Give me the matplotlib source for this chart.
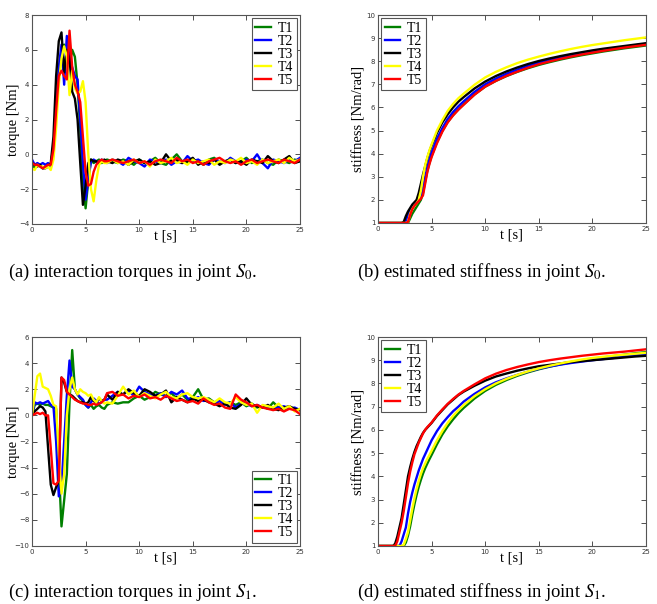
import matplotlib
matplotlib.use('Agg')
import matplotlib.pyplot as plt
import numpy as np

plt.rcParams['font.family'] = 'Liberation Serif'
plt.rcParams['mathtext.fontset'] = 'stix'

# ------------------------------- data -------------------------------------
names = ['T1', 'T2', 'T3', 'T4', 'T5']
colors = ['green', 'blue', 'black', 'yellow', 'red']

# torque time grid: 0.25 s up to 7 s, then 0.5 s
t_torque = np.concatenate([np.arange(0, 7, 0.25), np.arange(7, 25.01, 0.5)])

# ---- (a) torques in joint S0
tq_s0_t1 = [-0.6, -0.8, -0.6, -0.7, -0.8, -0.7, -0.6, -0.6, 0.5, 2.5,
            4.5, 5.8, 6.3, 6.0, 5.2, 6.0, 5.6, 4.0, 1.5, -1.5,
            -3.1, -1.5, -0.3, -0.5, -0.4, -0.3, -0.5, -0.4,
            -0.3, -0.4, -0.5, -0.3, -0.4, -0.6, -0.3, -0.5, -0.4, -0.2,
            -0.5, -0.6, -0.3, 0.0, -0.4, -0.5, -0.3, -0.4, -0.6, -0.3,
            -0.2, -0.5, -0.4, -0.3, -0.5, -0.4, -0.2, -0.5, -0.4, -0.3,
            -0.5, -0.6, -0.3, -0.4, -0.5, -0.3, -0.4]
tq_s0_t2 = [-0.3, -0.6, -0.5, -0.6, -0.5, -0.6, -0.5, -0.7, 0.0, 2.5,
            5.0, 6.3, 4.0, 6.8, 5.5, 5.0, 4.5, 4.3, 2.0, -0.5,
            -2.6, -1.5, -0.4, -0.3, -0.4, -0.5, -0.3, -0.4,
            -0.5, -0.3, -0.4, -0.6, -0.2, -0.4, -0.5, -0.7, -0.3, -0.4,
            -0.5, -0.3, -0.6, -0.4, -0.5, -0.1, -0.4, -0.3, -0.5, -0.6,
            -0.3, -0.4, -0.5, -0.2, -0.4, -0.5, -0.3, -0.4, 0.0, -0.5,
            -0.8, -0.3, -0.4, -0.5, -0.3, -0.4, -0.2]
tq_s0_t3 = [-0.5, -0.6, -0.7, -0.6, -0.8, -0.8, -0.7, -0.5, 1.0, 4.5,
            6.5, 7.0, 4.7, 6.0, 5.5, 3.6, 3.2, 2.0, -0.5, -2.9,
            -1.8, -0.5, -0.3, -0.4, -0.4, -0.5, -0.4, -0.3,
            -0.4, -0.5, -0.3, -0.4, -0.6, -0.4, -0.3, -0.5, -0.4, -0.6,
            -0.5, 0.0, -0.4, -0.3, -0.5, -0.4, -0.2, -0.6, -0.4, -0.5,
            -0.3, -0.6, -0.4, -0.3, -0.5, -0.4, -0.6, -0.3, -0.4, -0.5,
            -0.1, -0.4, -0.5, -0.3, -0.1, -0.5, -0.4]
tq_s0_t4 = [-0.8, -0.9, -0.6, -0.7, -0.7, -0.8, -0.7, -0.9, -0.3, 1.5,
            4.0, 5.5, 6.2, 5.6, 3.4, 4.8, 3.8, 3.5, 3.6, 4.2,
            3.0, 0.0, -2.0, -2.7, -1.5, -0.6, -0.4, -0.5,
            -0.5, -0.3, -0.5, -0.4, -0.6, -0.3, -0.5, -0.4, -0.7, -0.3,
            -0.5, -0.4, -0.2, -0.5, -0.4, -0.6, -0.3, -0.5, -0.4, -0.3,
            -0.6, -0.4, -0.5, -0.3, -0.4, -0.2, -0.5, -0.4, -0.6, -0.3,
            -0.5, -0.4, -0.3, -0.5, -0.2, -0.4, -0.3]
tq_s0_t5 = [-0.5, -0.6, -0.6, -0.7, -0.8, -0.7, -0.6, -0.6, 0.3, 2.5,
            4.5, 4.8, 4.5, 4.3, 7.1, 5.0, 4.0, 3.6, 3.0, 1.0,
            -1.0, -1.8, -1.7, -1.0, -0.6, -0.4, -0.3, -0.4,
            -0.4, -0.3, -0.4, -0.5, -0.4, -0.3, -0.5, -0.4, -0.6, -0.4,
            -0.3, -0.4, -0.5, -0.2, -0.4, -0.3, -0.5, -0.4, -0.6, -0.4,
            -0.3, -0.2, -0.4, -0.5, -0.4, -0.6, -0.4, -0.3, -0.5, -0.4,
            -0.3, -0.4, -0.5, -0.3, -0.4, -0.5, -0.3]

# ---- (c) torques in joint S1
tq_s1_t1 = [0.0, 0.8, 0.9, 0.8, 0.9, 0.8, 0.8, 0.7, 0.6, 0.5,
            -4.0, -8.5, -6.5, -4.5, 1.0, 5.0, 2.0, 1.6, 1.3, 1.1,
            0.8, 0.6, 0.8, 0.5, 0.7, 0.8, 0.6, 0.5,
            0.8, 1.0, 0.9, 1.0, 1.0, 1.3, 1.5, 1.2, 1.4, 1.8,
            1.6, 1.5, 1.7, 1.3, 1.6, 1.2, 1.4, 2.0, 1.2, 1.3,
            1.0, 1.1, 0.9, 1.0, 0.8, 1.0, 0.7, 0.9, 0.6, 0.7,
            0.5, 1.0, 0.6, 0.4, 0.6, 0.5, 0.4]
tq_s1_t2 = [0.0, 1.0, 0.9, 1.0, 0.9, 1.0, 1.1, 0.8, 0.7, -2.0,
            -6.2, -5.5, -2.0, 1.5, 4.2, 2.2, 2.0, 1.6, 1.4, 1.2,
            0.8, 0.6, 1.0, 1.3, 1.1, 0.9, 1.0, 1.2,
            1.2, 1.5, 1.8, 1.6, 1.9, 1.5, 2.2, 1.8, 1.6, 1.5,
            1.7, 1.4, 1.8, 1.6, 1.9, 1.3, 1.2, 1.4, 1.1, 1.2,
            0.9, 1.1, 0.8, 1.0, 0.6, 0.9, 0.9, 0.7, 0.8, 0.6,
            0.7, 0.5, 0.6, 0.7, 0.5, 0.6, 0.4]
tq_s1_t3 = [0.0, 0.3, 0.5, 0.7, 0.6, 0.3, -2.5, -5.3, -6.1, -5.5,
            -5.0, 2.9, 2.5, 1.8, 1.6, 1.5, 1.3, 1.1, 1.0, 1.0,
            0.9, 1.0, 1.4, 1.1, 1.0, 1.3, 1.1, 1.2,
            1.6, 1.2, 1.8, 1.6, 2.0, 1.7, 1.5, 2.0, 1.8, 1.5,
            1.6, 1.9, 1.0, 1.4, 1.2, 1.0, 1.3, 1.1, 1.2, 1.0,
            0.9, 0.7, 0.9, 0.6, 0.5, 0.8, 1.3, 0.8, 0.7, 0.6,
            0.8, 0.5, 0.4, 0.6, 0.7, 0.5, 0.4]
tq_s1_t4 = [0.0, 1.5, 3.0, 3.2, 2.2, 2.1, 2.0, 1.5, 0.8, 0.7,
            -3.0, -6.0, -4.5, 0.0, 2.0, 2.9, 2.0, 1.6, 2.0, 1.8,
            1.7, 1.5, 1.6, 1.2, 1.0, 1.4, 1.1, 0.9,
            1.0, 0.9, 1.5, 2.2, 1.6, 1.9, 1.4, 1.7, 1.5, 1.3,
            1.6, 1.8, 1.4, 1.3, 1.6, 1.7, 1.4, 1.3, 1.4, 1.2,
            1.0, 1.3, 1.0, 0.9, 1.4, 1.0, 0.8, 0.9, 0.2, 0.8,
            0.7, 0.6, 0.9, 0.5, 0.7, 0.3, 0.5]
tq_s1_t5 = [0.0, 0.1, 0.2, 0.1, 0.2, 0.0, 0.0, -2.5, -5.2, -5.3,
            -5.0, 2.9, 2.7, 1.8, 1.6, 1.4, 1.2, 1.1, 1.0, 0.9,
            0.9, 0.8, 0.8, 0.9, 0.8, 0.9, 1.0, 1.2,
            1.7, 1.8, 1.5, 1.6, 1.3, 1.5, 1.4, 1.6, 1.3, 1.4,
            1.2, 1.5, 1.3, 1.1, 1.2, 1.0, 1.1, 0.9, 1.3, 1.0,
            0.8, 0.9, 0.6, 0.5, 1.6, 1.2, 1.0, 0.7, 0.8, 0.6,
            0.5, 0.4, 0.5, 0.3, 0.5, 0.4, 0.1]

# stiffness time grid
t_stiff = [0, 1.4, 1.6, 1.8, 2.0, 2.2, 2.4, 2.6, 2.8, 3.0,
           3.2, 3.4, 3.6, 3.8, 4.0, 4.2, 4.4, 4.6, 4.8, 5.0,
           5.5, 6.0, 6.5, 7.0, 7.5, 8, 9, 10, 11, 12,
           13, 14, 15, 16, 17, 18, 19, 20, 21, 22,
           23, 24, 25]

# ---- (b) stiffness in joint S0
k_s0_t1 = [1, 1, 1, 1, 1, 1, 1, 1, 1, 1.2,
           1.4, 1.55, 1.7, 1.85, 2.0, 2.3, 2.8, 3.25, 3.6, 3.9,
           4.5, 4.98, 5.37, 5.67, 5.92, 6.14, 6.56, 6.9, 7.15, 7.36,
           7.54, 7.7, 7.84, 7.96, 8.07, 8.17, 8.26, 8.34, 8.42, 8.49,
           8.56, 8.62, 8.68]
k_s0_t2 = [1, 1, 1, 1, 1, 1, 1.0, 1.1, 1.35, 1.6,
           1.7, 1.8, 1.9, 2.0, 2.1, 2.5, 3.0, 3.4, 3.75, 4.05,
           4.65, 5.1, 5.5, 5.8, 6.05, 6.27, 6.67, 7.0, 7.25, 7.46,
           7.64, 7.8, 7.94, 8.06, 8.16, 8.25, 8.33, 8.41, 8.48, 8.55,
           8.62, 8.69, 8.75]
k_s0_t3 = [1, 1, 1, 1, 1, 1, 1.05, 1.3, 1.5, 1.65,
           1.8, 1.9, 2.0, 2.3, 2.7, 3.1, 3.45, 3.8, 4.1, 4.35,
           4.9, 5.35, 5.7, 6.0, 6.25, 6.45, 6.82, 7.12, 7.36, 7.56,
           7.73, 7.88, 8.01, 8.12, 8.22, 8.31, 8.39, 8.47, 8.54, 8.6,
           8.66, 8.72, 8.78]
k_s0_t4 = [1, 1, 1, 1, 1, 1, 1, 1, 1.05, 1.4,
           1.6, 1.75, 1.85, 2.0, 2.4, 3.0, 3.5, 3.85, 4.15, 4.4,
           5.0, 5.45, 5.85, 6.15, 6.4, 6.6, 6.98, 7.3, 7.54, 7.74,
           7.92, 8.07, 8.2, 8.32, 8.43, 8.53, 8.62, 8.7, 8.77, 8.84,
           8.91, 8.97, 9.03]
k_s0_t5 = [1, 1, 1, 1, 1, 1, 1, 1, 1.05, 1.35,
           1.6, 1.75, 1.85, 1.95, 2.05, 2.2, 2.7, 3.2, 3.55, 3.85,
           4.45, 4.95, 5.35, 5.65, 5.9, 6.12, 6.55, 6.9, 7.15, 7.37,
           7.55, 7.72, 7.87, 7.99, 8.1, 8.2, 8.29, 8.37, 8.45, 8.52,
           8.59, 8.65, 8.71]

# ---- (d) stiffness in joint S1
k_s1_t1 = [1, 1, 1, 1, 1, 1, 1, 1.15, 1.45, 1.85,
           2.35, 2.8, 3.2, 3.55, 3.85, 4.12, 4.35, 4.55, 4.74, 4.92,
           5.38, 5.8, 6.15, 6.45, 6.72, 6.95, 7.35, 7.68, 7.94, 8.15,
           8.33, 8.48, 8.61, 8.72, 8.82, 8.91, 8.99, 9.06, 9.12, 9.18,
           9.24, 9.3, 9.35]
k_s1_t2 = [1, 1, 1, 1, 1, 1.2, 1.5, 1.8, 2.4, 2.9,
           3.3, 3.65, 3.95, 4.25, 4.5, 4.75, 4.95, 5.15, 5.35, 5.55,
           5.95, 6.28, 6.55, 6.8, 7.0, 7.22, 7.55, 7.83, 8.05, 8.22,
           8.37, 8.51, 8.63, 8.73, 8.81, 8.88, 8.94, 9.0, 9.05, 9.1,
           9.15, 9.2, 9.25]
k_s1_t3 = [1, 1.0, 1.1, 1.4, 1.8, 2.2, 2.8, 3.4, 4.0, 4.4,
           4.75, 5.05, 5.3, 5.5, 5.7, 5.87, 6.0, 6.1, 6.2, 6.3,
           6.6, 6.85, 7.1, 7.3, 7.5, 7.65, 7.9, 8.12, 8.3, 8.43,
           8.55, 8.65, 8.74, 8.8, 8.86, 8.92, 8.96, 9.0, 9.04, 9.08,
           9.12, 9.16, 9.19]
k_s1_t4 = [1, 1, 1, 1, 1, 1, 1.05, 1.3, 1.6, 2.1,
           2.6, 3.05, 3.45, 3.8, 4.1, 4.35, 4.55, 4.75, 4.92, 5.1,
           5.55, 5.95, 6.3, 6.6, 6.85, 7.07, 7.45, 7.75, 8.0, 8.2,
           8.37, 8.52, 8.65, 8.76, 8.86, 8.95, 9.03, 9.1, 9.15, 9.2,
           9.24, 9.28, 9.32]
k_s1_t5 = [1, 1, 1, 1.2, 1.6, 2.0, 2.5, 3.1, 3.7, 4.2,
           4.6, 4.95, 5.2, 5.45, 5.65, 5.85, 6.0, 6.12, 6.22, 6.32,
           6.62, 6.88, 7.12, 7.33, 7.52, 7.68, 7.96, 8.22, 8.42, 8.58,
           8.71, 8.82, 8.92, 9.0, 9.07, 9.13, 9.19, 9.24, 9.29, 9.33,
           9.37, 9.42, 9.47]


# ------------------------------- plotting ---------------------------------
def panel(ax, t, series, ylim, yticks, ylabel, loc):
    for y, c, name in zip(series, colors, names):
        ax.plot(t, y, color=c, lw=1.7, label=name)
    ax.set_xlim(0, 25)
    ax.set_ylim(*ylim)
    ax.set_xticks(range(0, 26, 5))
    ax.set_yticks(yticks)
    ax.tick_params(direction='in', top=True, right=True, length=3.5,
                   width=0.6, labelsize=5, pad=2, colors='#333333',
                   labelfontfamily='DejaVu Sans')
    for s in ax.spines.values():
        s.set_color('#555555')
        s.set_linewidth(0.8)
    ax.set_xlabel('t [s]', fontsize=10.5)
    ax.set_ylabel(ylabel, fontsize=10.5)
    ax.xaxis.set_label_coords(0.5, -0.025)
    ax.yaxis.set_label_coords(-0.045, 0.5)
    leg = ax.legend(loc=loc, fontsize=10, handlelength=1.1,
                    handletextpad=0.5, labelspacing=0.0, borderpad=0.25,
                    borderaxespad=0.25, fancybox=False, framealpha=1)
    leg.get_frame().set_edgecolor('#555555')
    leg.get_frame().set_linewidth(0.8)


fig = plt.figure(figsize=(6.57, 6.04), dpi=100)
W, H = 657.0, 604.0


def add_axes(x0, x1, y0, y1):
    return fig.add_axes([x0 / W, 1 - y1 / H, (x1 - x0) / W, (y1 - y0) / H])


ax_a = add_axes(32, 300, 15, 224)
ax_b = add_axes(378, 646, 15, 223)
ax_c = add_axes(32, 300, 337, 546)
ax_d = add_axes(378, 646, 337, 546)

panel(ax_a, t_torque, [tq_s0_t1, tq_s0_t2, tq_s0_t3, tq_s0_t4, tq_s0_t5],
      (-4, 8), range(-4, 9, 2), 'torque [Nm]', 'upper right')
panel(ax_b, t_stiff, [k_s0_t1, k_s0_t2, k_s0_t3, k_s0_t4, k_s0_t5],
      (1, 10), range(1, 11), 'stiffness [Nm/rad]', 'upper left')
panel(ax_c, t_torque, [tq_s1_t1, tq_s1_t2, tq_s1_t3, tq_s1_t4, tq_s1_t5],
      (-10, 6), range(-10, 7, 2), 'torque [Nm]', 'lower right')
panel(ax_d, t_stiff, [k_s1_t1, k_s1_t2, k_s1_t3, k_s1_t4, k_s1_t5],
      (1, 10), range(1, 11), 'stiffness [Nm/rad]', 'upper left')

# ---- captions
cap = dict(fontsize=13.4, va='center', ha='left')
fig.text(8 / W, 1 - 272 / H, '(a) interaction torques in joint $S_0$.', **cap)
fig.text(357 / W, 1 - 272 / H, '(b) estimated stiffness in joint $S_0$.', **cap)
fig.text(8 / W, 1 - 592 / H, '(c) interaction torques in joint $S_1$.', **cap)
fig.text(357 / W, 1 - 592 / H, '(d) estimated stiffness in joint $S_1$.', **cap)

fig.savefig('out.png', dpi=100)
